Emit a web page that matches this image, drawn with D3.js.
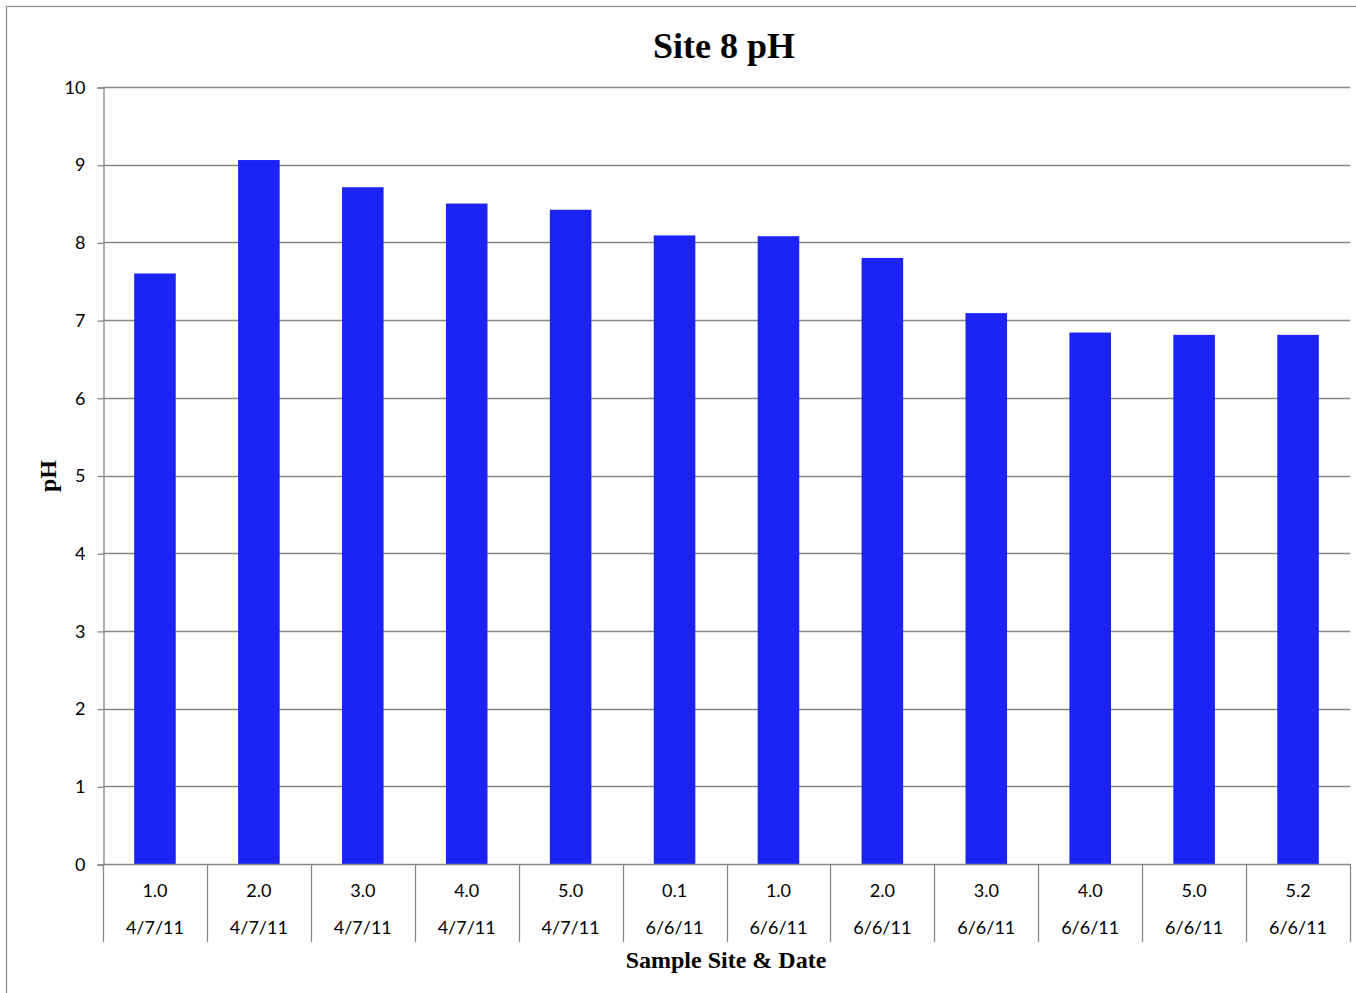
<!DOCTYPE html>
<html>
<head>
<meta charset="utf-8">
<script src="https://cdn.jsdelivr.net/npm/d3@7/dist/d3.min.js"></script>
<style>
  html, body { margin: 0; padding: 0; background: #fff; }
  svg { display: block; }
</style>
</head>
<body>
<svg id="chart" width="1356" height="993"></svg>
<script>
const sites = ["1.0", "2.0", "3.0", "4.0", "5.0", "0.1", "1.0", "2.0", "3.0", "4.0", "5.0", "5.2"];
const dates = ["4/7/11", "4/7/11", "4/7/11", "4/7/11", "4/7/11", "6/6/11", "6/6/11", "6/6/11", "6/6/11", "6/6/11", "6/6/11", "6/6/11"];
const phValues = [7.6, 9.06, 8.71, 8.5, 8.42, 8.09, 8.08, 7.8, 7.09, 6.84, 6.81, 6.81];
const yTicks = [0, 1, 2, 3, 4, 5, 6, 7, 8, 9, 10];

(function () {
const svg = d3.select("#chart");
const W = 1356, H = 993;
const plotL = 103, plotR = 1350, plotT = 87, plotB = 864;
const gridColor = "#878787";
const sansFont = "Lato, 'Open Sans', sans-serif";
const serifFont = "'Liberation Serif', 'Times New Roman', serif";

// outer border
svg.append("rect")
  .attr("x", 6.5).attr("y", 6.5)
  .attr("width", W + 10).attr("height", H + 10)
  .attr("fill", "#fff").attr("stroke", gridColor).attr("stroke-width", 1.2);

const idx = d3.range(phValues.length);
const x = d3.scaleBand().domain(idx).range([plotL, plotR]).padding(0);
const y = d3.scaleLinear().domain([0, 10]).range([plotB, plotT]);

// gridlines
svg.append("g")
  .selectAll("line")
  .data(yTicks.filter(t => t > 0))
  .join("line")
  .attr("x1", plotL).attr("x2", plotR)
  .attr("y1", d => Math.round(y(d)) + 0.5).attr("y2", d => Math.round(y(d)) + 0.5)
  .attr("stroke", gridColor).attr("stroke-width", 1.3);

// y axis
const yAxis = d3.axisLeft(y).tickValues(yTicks).tickSize(6).tickPadding(12).tickFormat(d3.format("d"));
const gy = svg.append("g").attr("transform", `translate(${plotL + 0.5},0.5)`).call(yAxis);
gy.select(".domain").attr("stroke", gridColor).attr("stroke-width", 1.3);
gy.selectAll(".tick line").attr("stroke", gridColor).attr("stroke-width", 1.3);
gy.selectAll(".tick text")
  .attr("font-family", sansFont).attr("font-size", 18).attr("fill", "#000");

// bars
const barFrac = 0.4;
svg.append("g")
  .selectAll("rect")
  .data(phValues)
  .join("rect")
  .attr("x", (d, i) => x(i) + x.bandwidth() * (1 - barFrac) / 2)
  .attr("width", x.bandwidth() * barFrac)
  .attr("y", d => y(d))
  .attr("height", d => y(0) - y(d))
  .attr("fill", "#1B24F5");

// x axis line
svg.append("line")
  .attr("x1", plotL).attr("x2", plotR)
  .attr("y1", plotB + 0.5).attr("y2", plotB + 0.5)
  .attr("stroke", gridColor).attr("stroke-width", 1.3);

// category dividers
const bounds = idx.map(i => x(i)).concat([plotR]);
svg.append("g")
  .selectAll("line")
  .data(bounds)
  .join("line")
  .attr("x1", d => Math.round(d) + 0.5).attr("x2", d => Math.round(d) + 0.5)
  .attr("y1", plotB).attr("y2", 942)
  .attr("stroke", gridColor).attr("stroke-width", 1.3);

// category labels
const lab = svg.append("g").attr("font-family", sansFont).attr("font-size", 18).attr("fill", "#000").attr("text-anchor", "middle");
lab.selectAll("text.site").data(sites).join("text")
  .attr("class", "site")
  .attr("x", (d, i) => x(i) + x.bandwidth() / 2)
  .attr("y", 897)
  .text(d => d);
lab.selectAll("text.date").data(dates).join("text")
  .attr("class", "date")
  .attr("x", (d, i) => x(i) + x.bandwidth() / 2)
  .attr("y", 934)
  .text(d => d);

// title
svg.append("text")
  .attr("x", 724).attr("y", 58)
  .attr("text-anchor", "middle")
  .attr("font-family", serifFont).attr("font-weight", "bold").attr("font-size", 36)
  .text("Site 8 pH");

// axis titles
svg.append("text")
  .attr("x", 726).attr("y", 968)
  .attr("text-anchor", "middle")
  .attr("font-family", serifFont).attr("font-weight", "bold").attr("font-size", 24)
  .text("Sample Site & Date");

svg.append("text")
  .attr("transform", "translate(56,476) rotate(-90)")
  .attr("text-anchor", "middle")
  .attr("font-family", serifFont).attr("font-weight", "bold").attr("font-size", 24)
  .text("pH");
})();
</script>
</body>
</html>
